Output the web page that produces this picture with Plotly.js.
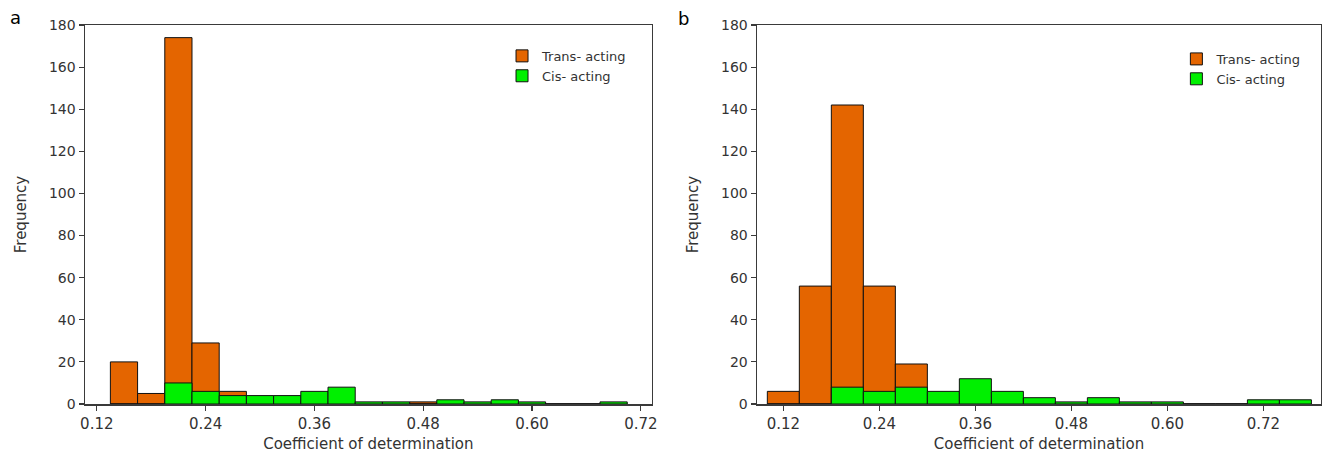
<!DOCTYPE html>
<html>
<head>
<meta charset="utf-8">
<script src="https://cdn.plot.ly/plotly-3.0.1.min.js"></script>
<style>html,body{margin:0;padding:0;background:#fff;}#chart{width:1322px;height:457px;}</style>
</head>
<body>
<div id="chart"></div>
<script>
// Panel a: bin centres (bin width 0.03)
const binsA = [0.15,0.18,0.21,0.24,0.27,0.30,0.33,0.36,0.39,0.42,0.45,0.48,0.51,0.54,0.57,0.60,0.63,0.66,0.69];
const transA = [20,5,174,29,6,0,0,0,0,0,0,1,0,0,0,0,0,0,0];
const cisA   = [0,0,10,6,4,4,4,6,8,1,1,0,2,1,2,1,0,0,1];

// Panel b: bin centres (bin width 0.04)
const binsB = [0.12,0.16,0.20,0.24,0.28,0.32,0.36,0.40,0.44,0.48,0.52,0.56,0.60,0.64,0.68,0.72,0.76];
const transB = [6,56,142,56,19,0,0,0,0,0,0,0,0,0,0,0,0];
const cisB   = [0,0,8,6,8,6,12,6,3,1,3,1,1,0,0,2,2];

const xTickVals = [0.12,0.24,0.36,0.48,0.60,0.72];
const xTickText = ["0.12","0.24","0.36","0.48","0.60","0.72"];
const yTickVals = [0,20,40,60,80,100,120,140,160,180];

const seriesNames = ["Trans- acting","Cis- acting"];
const panelLabels = ["a","b"];
const xTitle = "Coefficient of determination";
const yTitle = "Frequency";

const ORANGE = "#e46500";
const GREEN = "#00f000";
const FONT = "DejaVu Sans, Verdana, sans-serif";

function bar(x, y, name, color, xa, ya, legend, width) {
  return {type:"bar", x:x, y:y, name:name, xaxis:xa, yaxis:ya, legend:legend,
    width:width, marker:{color:color, line:{color:"#111", width:1}}, hoverinfo:"x+y+name"};
}

const data = [
  bar(binsA, transA, seriesNames[0], ORANGE, "x", "y", "legend", 0.03),
  bar(binsA, cisA, seriesNames[1], GREEN, "x", "y", "legend", 0.03),
  bar(binsB, transB, seriesNames[0], ORANGE, "x2", "y2", "legend2", 0.04),
  bar(binsB, cisB, seriesNames[1], GREEN, "x2", "y2", "legend2", 0.04)
];

const axisCommon = {showline:true, linecolor:"#3a3a3a", linewidth:1.5, mirror:true,
  ticks:"outside", ticklen:5, tickcolor:"#3a3a3a", tickwidth:1.2, showgrid:false, zeroline:false};

function xAxis(domain, range, anchor) {
  return Object.assign({}, axisCommon, {domain:domain, range:range, anchor:anchor,
    tickmode:"array", tickvals:xTickVals, ticktext:xTickText,
    tickfont:{family:FONT, size:15, color:"#333"},
    title:{text:xTitle, font:{family:FONT, size:15, color:"#333"}, standoff:7}});
}
function yAxis(anchor) {
  return Object.assign({}, axisCommon, {domain:[0,1], range:[0,180], anchor:anchor,
    tickmode:"array", tickvals:yTickVals,
    tickfont:{family:FONT, size:14, color:"#333"},
    title:{text:yTitle, font:{family:FONT, size:15, color:"#333"}, standoff:18}});
}

const legendCommon = {font:{family:FONT, size:13, color:"#333"}, bgcolor:"rgba(0,0,0,0)",
  xanchor:"left", yanchor:"top", tracegroupgap:0, traceorder:"normal"};

const layout = {
  width:1322, height:457,
  margin:{l:85, r:1, t:25, b:52.5},
  paper_bgcolor:"#fff", plot_bgcolor:"#fff",
  barmode:"overlay", bargap:0,
  showlegend:true,
  xaxis: xAxis([0, 0.4585], [0.107, 0.732], "y"),
  yaxis: yAxis("x"),
  xaxis2: xAxis([0.5437, 1], [0.0871, 0.792], "y2"),
  yaxis2: yAxis("x2"),
  legend: Object.assign({}, legendCommon, {x:0.3374, y:0.958}),
  legend2: Object.assign({}, legendCommon, {x:0.883, y:0.950}),
  annotations: [
    {text:panelLabels[0], xref:"paper", yref:"paper", x:-0.0566, y:1.021, showarrow:false,
     xanchor:"center", yanchor:"middle", font:{family:FONT, size:18, color:"#000"}},
    {text:panelLabels[1], xref:"paper", yref:"paper", x:0.4846, y:1.018, showarrow:false,
     xanchor:"center", yanchor:"middle", font:{family:FONT, size:18, color:"#000"}}
  ]
};

Plotly.newPlot("chart", data, layout, {displayModeBar:false, staticPlot:true});
</script>
</body>
</html>
